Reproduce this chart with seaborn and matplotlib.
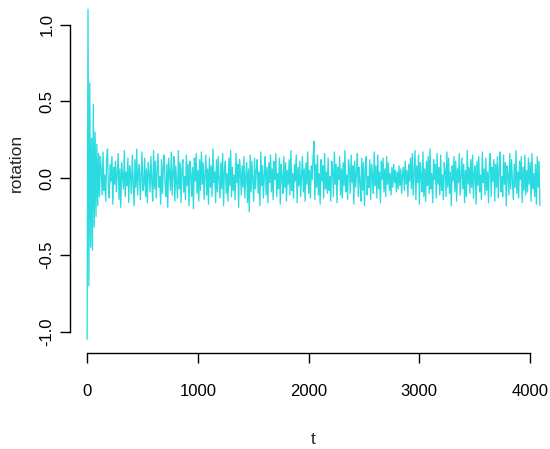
import matplotlib
matplotlib.use("Agg")
import matplotlib.pyplot as plt
import seaborn as sns
import numpy as np
import pandas as pd

# series sampled every 8 steps of t (1 .. 4089)
t = np.arange(1, 4097, 8)
rotation = [
    -1.05, 1.10, -0.70, 0.62, -0.45, 0.26, -0.47, 0.48, -0.32, 0.30, -0.25, 0.22, -0.18, 0.16, -0.12, 0.14,
    0.05, -0.11, 0.17, -0.08, 0.02, -0.15, 0.12, 0.19, -0.06, -0.13, 0.09, -0.02, 0.14, -0.17, 0.07, -0.04,
    0.11, -0.09, 0.03, 0.16, -0.14, 0.06, -0.19, 0.10, 0.01, -0.07, 0.18, -0.12, 0.04, -0.05, 0.13, -0.16,
    0.08, 0.02, -0.10, 0.15, -0.03, -0.18, 0.12, -0.06, 0.19, -0.11, 0.05, 0.09, -0.14, 0.00, 0.17, -0.08,
    -0.04, 0.13, -0.12, 0.06, -0.16, 0.10, 0.03, -0.09, 0.14, -0.02, -0.15, 0.18, -0.07, 0.11, -0.13, 0.05,
    0.16, -0.06, 0.01, -0.17, 0.12, -0.10, 0.07, 0.15, -0.04, -0.12, 0.09, -0.19, 0.13, 0.02, -0.08, 0.17,
    -0.11, 0.04, 0.14, -0.15, 0.08, -0.03, -0.13, 0.18, -0.07, 0.10, -0.16, 0.06, 0.12, -0.09, 0.01, -0.14,
    0.15, -0.05, 0.09, -0.18, 0.11, 0.03, -0.12, 0.07, -0.20, 0.13, -0.02, 0.16, -0.10, 0.05, -0.15, 0.12,
    -0.08, 0.17, -0.04, 0.10, -0.14, 0.02, 0.15, -0.11, 0.06, -0.17, 0.13, -0.06, 0.08, -0.12, 0.19, -0.03,
    0.04, -0.16, 0.12, -0.09, 0.14, -0.01, -0.13, 0.10, -0.07, 0.16, -0.18, 0.05, 0.11, -0.10, 0.03, -0.15,
    0.13, -0.05, 0.18, -0.12, 0.07, -0.08, 0.02, -0.14, 0.16, -0.03, 0.09, -0.19, 0.12, 0.04, -0.11, 0.08,
    -0.06, 0.14, -0.13, 0.01, 0.10, -0.16, 0.06, -0.22, 0.15, -0.09, 0.11, -0.02, -0.15, 0.13, -0.07, 0.05,
    0.12, -0.10, 0.04, -0.18, 0.17, -0.05, 0.08, -0.13, 0.02, 0.14, -0.11, 0.07, -0.16, 0.10, -0.03, 0.15,
    -0.09, 0.06, -0.14, 0.11, -0.01, 0.16, -0.12, 0.03, -0.07, 0.13, -0.17, 0.09, 0.01, -0.10, 0.14, -0.06,
    0.10, -0.15, 0.05, -0.04, 0.12, -0.11, 0.18, -0.08, 0.03, -0.13, 0.09, -0.02, 0.15, -0.16, 0.07, -0.05,
    0.11, -0.12, 0.02, 0.14, -0.09, 0.06, -0.15, 0.10, -0.04, 0.17, -0.10, 0.05, -0.13, 0.08, -0.01, 0.13,
    0.24, -0.14, 0.09, -0.06, 0.15, -0.11, 0.03, -0.17, 0.12, -0.02, 0.08, -0.13, 0.16, -0.07, 0.04, -0.10,
    0.13, -0.08, 0.01, -0.15, 0.11, 0.05, -0.12, 0.17, -0.04, 0.09, -0.16, 0.07, -0.01, 0.14, -0.11, 0.06,
    -0.13, 0.10, -0.05, 0.18, -0.09, 0.02, -0.14, 0.12, 0.06, -0.10, 0.15, -0.03, 0.08, -0.17, 0.11, -0.06,
    0.03, 0.16, -0.12, 0.07, -0.02, -0.15, 0.13, -0.08, 0.10, -0.18, 0.05, 0.14, -0.11, 0.01, -0.06, 0.12,
    -0.14, 0.09, 0.02, -0.10, 0.17, -0.05, 0.08, -0.13, 0.15, -0.07, 0.04, -0.16, 0.11, -0.01, 0.13, -0.09,
    0.06, -0.12, 0.14, -0.04, 0.10, -0.08, 0.03, -0.11, 0.07, -0.06, 0.09, -0.03, 0.05, -0.09, 0.04, -0.07,
    0.08, -0.05, 0.06, -0.10, 0.03, 0.07, -0.08, 0.11, -0.04, 0.05, -0.12, 0.09, -0.02, 0.13, -0.07, 0.16,
    -0.11, 0.04, 0.18, -0.14, 0.08, -0.03, 0.15, -0.17, 0.10, 0.02, -0.09, 0.17, -0.12, 0.06, -0.15, 0.11,
    -0.05, 0.14, -0.10, 0.19, -0.07, 0.03, -0.16, 0.12, -0.01, 0.09, -0.13, 0.16, -0.04, 0.07, -0.11, 0.15,
    -0.08, 0.02, -0.14, 0.10, 0.05, -0.12, 0.17, -0.06, 0.13, -0.10, 0.04, -0.18, 0.08, -0.02, 0.14, -0.09,
    0.11, -0.15, 0.06, -0.03, 0.16, -0.11, 0.01, 0.13, -0.07, 0.09, -0.16, 0.05, -0.12, 0.18, -0.04, 0.07,
    -0.10, 0.12, -0.06, 0.15, -0.13, 0.03, 0.08, -0.17, 0.11, -0.05, 0.14, -0.09, 0.02, -0.14, 0.17, -0.03,
    0.06, -0.11, 0.13, -0.08, 0.04, -0.16, 0.10, 0.16, -0.12, 0.07, -0.02, 0.12, -0.15, 0.09, -0.06, 0.14,
    -0.13, 0.05, 0.17, -0.09, 0.01, -0.12, 0.15, -0.04, 0.10, -0.18, 0.08, 0.03, -0.11, 0.16, -0.07, 0.12,
    -0.02, -0.14, 0.09, -0.06, 0.18, -0.10, 0.04, -0.13, 0.11, -0.01, 0.14, -0.16, 0.07, -0.08, 0.15, -0.11,
    0.05, -0.09, 0.13, -0.04, 0.10, -0.15, 0.16, -0.07, 0.03, -0.12, 0.09, -0.17, 0.14, -0.06, 0.11, -0.18,
]
yticks = [-1.0, -0.5, 0.0, 0.5, 1.0]
xticks = [0, 1000, 2000, 3000, 4000]

df = pd.DataFrame({"t": t, "rotation": rotation})

sns.set_style("ticks")
plt.rcParams["font.family"] = ["Liberation Sans", "DejaVu Sans"]

fig = plt.figure(figsize=(5.5, 4.49), dpi=100)
ax = fig.add_axes([70 / 550, 96.5 / 449, 480 / 550, 352.5 / 449])

sns.lineplot(data=df, x="t", y="rotation", ax=ax, color="#2ADCE0",
             linewidth=0.95, estimator=None, sort=False)

ax.set_xlim(-153.5, 4180)
ax.set_ylim(-1.136, 1.16)
ax.set_xticks(xticks)
ax.set_yticks(yticks)
ax.set_xticklabels([str(v) for v in xticks])
ax.set_yticklabels(["-1.0", "-0.5", "0.0", "0.5", "1.0"], rotation=90, va="center")

for s in ["top", "right"]:
    ax.spines[s].set_visible(False)
ax.spines["left"].set_bounds(-1.0, 1.0)
ax.spines["bottom"].set_bounds(0, 4000)
for s in ["left", "bottom"]:
    ax.spines[s].set_color("black")
    ax.spines[s].set_linewidth(1.0)

ax.tick_params(axis="both", direction="out", length=7, width=1.0,
               colors="black", labelsize=12)
ax.tick_params(axis="x", pad=16)
ax.tick_params(axis="y", pad=4)

ax.set_xlabel("t", fontsize=12.5)
ax.set_ylabel("rotation", fontsize=12.5)
ax.xaxis.set_label_coords(0.506, -0.225)
ax.yaxis.set_label_coords(-0.096, 0.539)

fig.savefig("out.png", dpi=100)
